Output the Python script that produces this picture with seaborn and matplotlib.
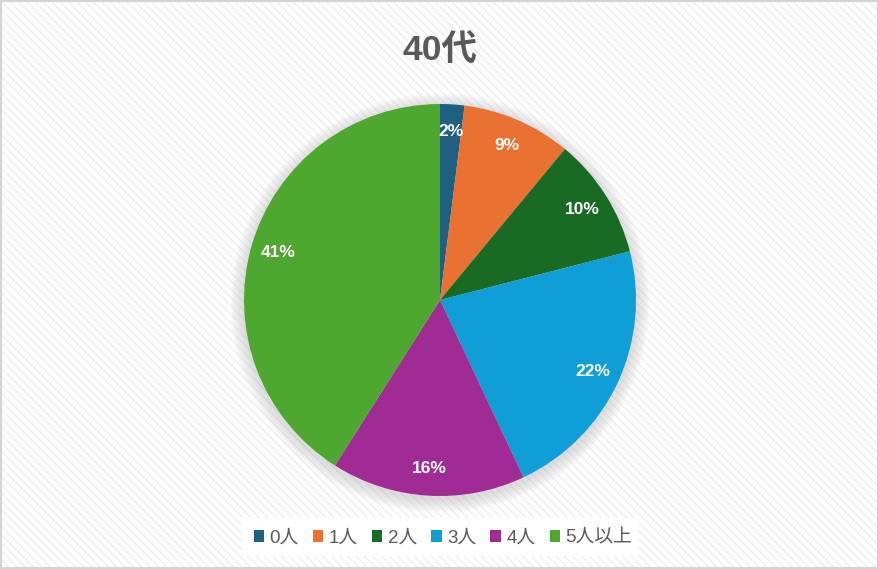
import matplotlib
matplotlib.use("Agg")
import matplotlib.pyplot as plt
import seaborn as sns
from matplotlib.patches import Rectangle, Circle

categories = ["0人", "1人", "2人", "3人", "4人", "5人以上"]
values = [2, 9, 10, 22, 16, 41]
colors = ["#1F5F80", "#E97132", "#196B24", "#0F9ED5", "#A02B93", "#4EA72E"]
title = "40代"

sns.set_theme(style="white")
plt.rcParams['font.family'] = ['Liberation Sans', 'Noto Sans CJK JP', 'DejaVu Sans']
plt.rcParams['hatch.color'] = "#ededed"

W, H = 879, 569
fig = plt.figure(figsize=(W / 100, H / 100), dpi=100)
fig.patch.set_facecolor("white")

# background with diagonal stripes (pixel coordinates)
bg = fig.add_axes([0, 0, 1, 1])
bg.set_xlim(0, W)
bg.set_ylim(0, H)
bg.axis("off")
bg.add_patch(Rectangle((0, 0), W, H, facecolor="white", edgecolor="#ededed",
                       hatch="\\\\\\\\", linewidth=0))
bg.add_patch(Rectangle((1, 1), W - 2, H - 2, facecolor="none", edgecolor="#d4d4d4",
                       linewidth=1.5))

cx, cy, R = 440, H - 300, 196
# soft shadow
for i in range(14):
    bg.add_patch(Circle((cx, cy - 3), R + 14 - i, facecolor="#9a9a9a",
                        alpha=0.025, linewidth=0))

# legend background box
bg.add_patch(Rectangle((242, H - 556), 396, 38, facecolor="white", edgecolor="none"))

ax = fig.add_axes([(cx - R) / W, (cy - R) / H, 2 * R / W, 2 * R / H])
wedges, texts, autotexts = ax.pie(
    values, colors=colors, startangle=90, counterclock=False,
    autopct=lambda p: f"{p:.0f}%", pctdistance=0.86,
    wedgeprops=dict(linewidth=0),
    textprops=dict(color="white", fontsize=12.5, fontweight="bold"))
ax.set_xlim(-1, 1)
ax.set_ylim(-1, 1)
ax.set_aspect("auto")
ax.axis("off")

fig.text(cx / W, 1 - 51 / H, title, ha="center", va="center", fontsize=25.5,
         fontweight="bold", color="#595959")

leg = fig.legend(wedges, categories, loc="center", bbox_to_anchor=(443 / W, 1 - 538 / H),
                 ncol=6, frameon=False, fontsize=13.5, handlelength=0.55, handleheight=0.55,
                 handletextpad=0.3, columnspacing=0.75, labelcolor="#595959")

fig.savefig("out.png", dpi=100)
